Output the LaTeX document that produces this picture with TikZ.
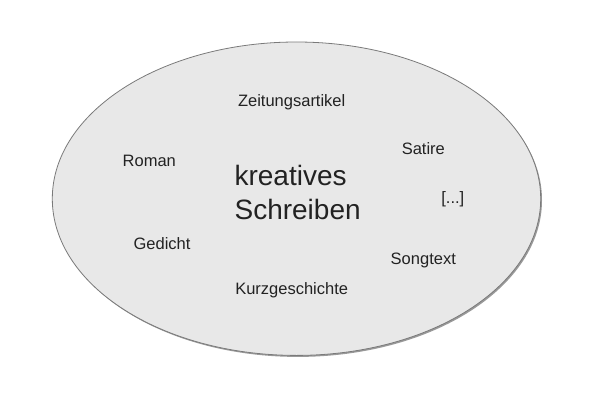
\documentclass[tikz,border=0pt]{standalone}
\usepackage{fontspec}
\setmainfont{Liberation Sans}
\definecolor{fillgray}{HTML}{E8E8E8}
\definecolor{edgegray}{HTML}{7A7A7A}
\definecolor{shadowgray}{HTML}{555555}
\definecolor{textgray}{HTML}{222222}
\begin{document}
\begin{tikzpicture}[x=1pt,y=1pt,
  lbl/.style={font=\fontsize{16.5}{19}\selectfont, text=textgray, anchor=base, inner sep=0pt},
  big/.style={font=\fontsize{28}{33.6}\selectfont, text=textgray, anchor=base west, inner sep=0pt}]
\useasboundingbox (0,0) rectangle (600,400);
\fill[white] (0,0) rectangle (600,400);
% shadow
\fill[shadowgray, opacity=0.6] (297.8,199.8) ellipse [x radius=244.2, y radius=156.7];
% ellipse
\draw[edgegray, fill=fillgray, line width=0.8pt] (296.5,201.3) ellipse [x radius=244.2, y radius=156.7];
\node[big] (k1) at (234.4,214.3) {kreatives};
\node[big] (k2) at (234.4,180.7) {Schreiben};
\node[lbl] (zeit) at (291.7,293.3) {Zeitungsartikel};
\node[lbl] (roman) at (149.3,233.5) {Roman};
\node[lbl] (satire) at (423.3,246) {Satire};
\node[lbl] (dots) at (452.8,196.2) {[...]};
\node[lbl] (gedicht) at (162,151) {Gedicht};
\node[lbl] (song) at (423.3,136) {Songtext};
\node[lbl] (kurz) at (291.7,106) {Kurzgeschichte};
\end{tikzpicture}
\end{document}
